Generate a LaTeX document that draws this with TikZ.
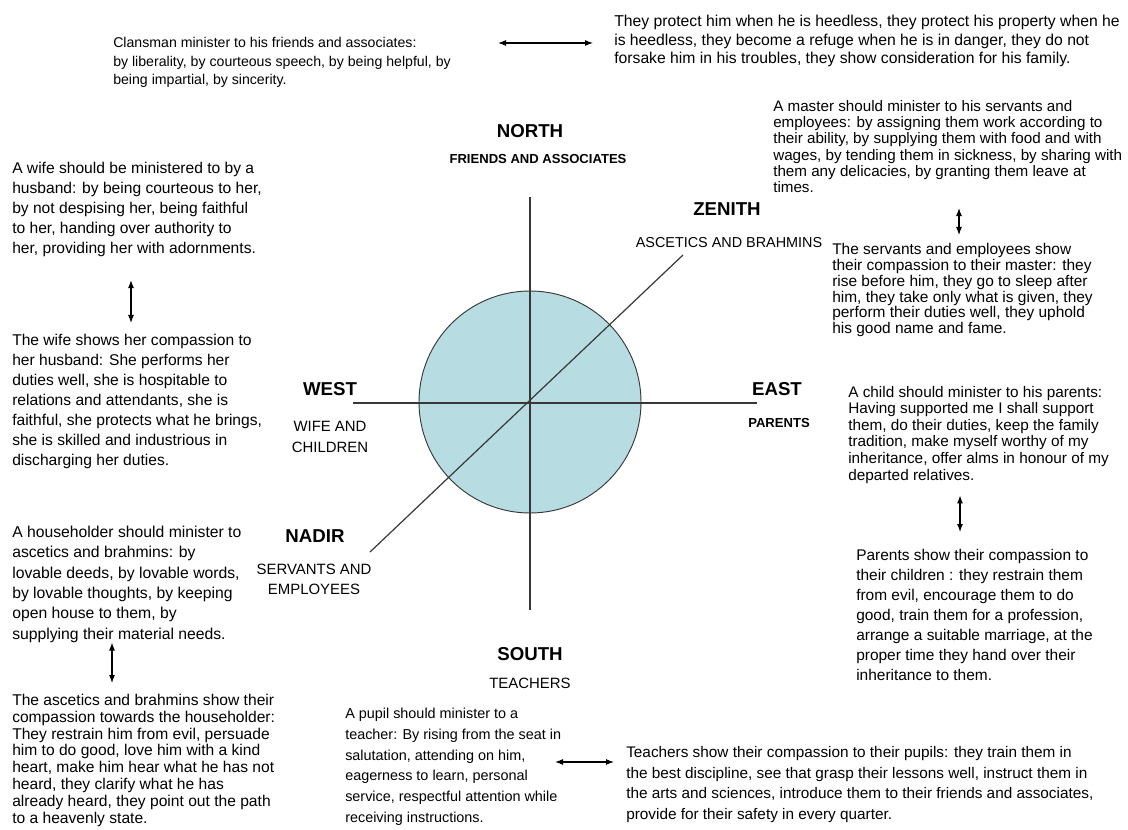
\documentclass[tikz,border=0pt]{standalone}
\usepackage{fontspec}
\setmainfont{Liberation Sans}
\usepackage{tikz}
\usetikzlibrary{arrows.meta,calc,positioning}
\usepackage{xcolor}
\definecolor{discblue}{RGB}{183,221,227}
\definecolor{axisgray}{RGB}{55,55,55}
\tikzstyle{dirlabel} = [font=\fontsize{14}{16}\selectfont\bfseries, inner sep=0pt]
\tikzstyle{subbold} = [font=\fontsize{9.8}{12}\selectfont\bfseries, inner sep=0pt]
\tikzstyle{sublabel} = [font=\fontsize{11.2}{16}\selectfont, align=center, inner sep=0pt]
\tikzstyle{duty} = [anchor=north west, align=left, inner sep=0pt]
\tikzstyle{axis} = [draw=axisgray, line width=0.9pt]
\tikzstyle{dbl} = [{Latex[length=6pt,width=4.5pt]}-{Latex[length=6pt,width=4.5pt]}, line width=0.8pt]

\begin{document}
\begin{tikzpicture}[x=0.75pt, y=-0.75pt]
\useasboundingbox (0,0) rectangle (1128,830);

% Compass
\node[circle, draw=axisgray, fill=discblue, line width=0.7pt, minimum size=166.5pt, inner sep=0pt] (disc) at (530,402) {};
\draw[axis] (530,197) -- (530,610);
\draw[axis] (353,403) -- (757,403);
\draw[axis] (370,552) -- (683,255);

% Directions
\node[dirlabel] (north) at (530,131) {NORTH};
\node[subbold] (friends) at (538,159) {FRIENDS AND ASSOCIATES};
\node[dirlabel] (zenith) at (727,209) {ZENITH};
\node[sublabel, font=\fontsize{10.8}{13}\selectfont] (ascetics) at (729,243) {ASCETICS AND BRAHMINS};
\node[dirlabel] (west) at (330,389) {WEST};
\node[sublabel] (wifechild) at (330,437) {WIFE AND\\CHILDREN};
\node[dirlabel] (east) at (777,389) {EAST};
\node[subbold] (parents) at (779,423) {PARENTS};
\node[dirlabel] (nadir) at (315,536) {NADIR};
\node[sublabel, font=\fontsize{11.2}{15}\selectfont] (servemp) at (314,579) {SERVANTS AND\\EMPLOYEES};
\node[dirlabel] (south) at (530,654) {SOUTH};
\node[sublabel] (teachers) at (530,683) {TEACHERS};

% North
\node[duty, font=\fontsize{10.6}{13.9}\selectfont] (clans) at (113,37) {Clansman minister to his friends and associates:\\
by liberality, by courteous speech, by being helpful, by\\
being impartial, by sincerity.};
\node[duty, font=\fontsize{11.8}{13.9}\selectfont] (guard) at (614,15) {They protect him when he is heedless, they protect his property when he\\
is heedless, they become a refuge when he is in danger, they do not\\
forsake him in his troubles, they show consideration for his family.};

% Zenith
\node[duty, font=\fontsize{11.4}{12.2}\selectfont] (master) at (773,100) {A master should minister to his servants and\\
employees: by assigning them work according to\\
their ability, by supplying them with food and with\\
wages, by tending them in sickness, by sharing with\\
them any delicacies, by granting them leave at\\
times.};
\node[duty, font=\fontsize{11.6}{11.9}\selectfont] (servants) at (832,243) {The servants and employees show\\
their compassion to their master: they\\
rise before him, they go to sleep after\\
him, they take only what is given, they\\
perform their duties well, they uphold\\
his good name and fame.};

% West
\node[duty, font=\fontsize{11.7}{15}\selectfont] (wife) at (12,162) {A wife should be ministered to by a\\
husband: by being courteous to her,\\
by not despising her, being faithful\\
to her, handing over authority to\\
her, providing her with adornments.};
\node[duty, font=\fontsize{11.7}{15}\selectfont] (wifecomp) at (12,334) {The wife shows her compassion to\\
her husband: She performs her\\
duties well, she is hospitable to\\
relations and attendants, she is\\
faithful, she protects what he brings,\\
she is skilled and industrious in\\
discharging her duties.};

% East
\node[duty, font=\fontsize{11.5}{12.4}\selectfont] (child) at (848,386) {A child should minister to his parents:\\
Having supported me I shall support\\
them, do their duties, keep the family\\
tradition, make myself worthy of my\\
inheritance, offer alms in honour of my\\
departed relatives.};
\node[duty, font=\fontsize{11.6}{15}\selectfont] (parentcomp) at (856,549) {Parents show their compassion to\\
their children : they restrain them\\
from evil, encourage them to do\\
good, train them for a profession,\\
arrange a suitable marriage, at the\\
proper time they hand over their\\
inheritance to them.};

% Nadir
\node[duty, font=\fontsize{11.8}{15.2}\selectfont] (house) at (12,526) {A householder should minister to\\
ascetics and brahmins: by\\
lovable deeds, by lovable words,\\
by lovable thoughts, by keeping\\
open house to them, by\\
supplying their material needs.};
\node[duty, font=\fontsize{11.7}{12.6}\selectfont] (ascetcomp) at (12,694) {The ascetics and brahmins show their\\
compassion towards the householder:\\
They restrain him from evil, persuade\\
him to do good, love him with a kind\\
heart, make him hear what he has not\\
heard, they clarify what he has\\
already heard, they point out the path\\
to a heavenly state.};

% South
\node[duty, font=\fontsize{10.8}{15.5}\selectfont] (pupil) at (345,708) {A pupil should minister to a\\
teacher: By rising from the seat in\\
salutation, attending on him,\\
eagerness to learn, personal\\
service, respectful attention while\\
receiving instructions.};
\node[duty, font=\fontsize{11.5}{15.5}\selectfont] (teacher) at (626,746) {Teachers show their compassion to their pupils: they train them in\\
the best discipline, see that grasp their lessons well, instruct them in\\
the arts and sciences, introduce them to their friends and associates,\\
provide for their safety in every quarter.};

% Links
\coordinate (a1) at ($(clans.north west)+(385,6)$);
\coordinate (b1) at ($(guard.north west)+(-21,28)$);
\draw[dbl] (a1) -- (a1 -| b1);
\coordinate (a2) at ($(master.south west)+(186,15)$);
\coordinate (b2) at ($(servants.north west)+(0,-8)$);
\draw[dbl] (a2) -- (a2 |- b2);
\coordinate (a3) at ($(wife.south west)+(119,23)$);
\coordinate (b3) at ($(wifecomp.north west)+(0,-11)$);
\draw[dbl] (a3) -- (a3 |- b3);
\coordinate (a4) at ($(child.south west)+(112,12)$);
\coordinate (b4) at ($(parentcomp.north west)+(0,-17)$);
\draw[dbl] (a4) -- (a4 |- b4);
\coordinate (a5) at ($(house.south west)+(100,0)$);
\coordinate (b5) at ($(ascetcomp.north west)+(0,-11)$);
\draw[dbl] (a5) -- (a5 |- b5);
\coordinate (a6) at ($(pupil.north west)+(210,54)$);
\coordinate (b6) at ($(teacher.north west)+(-12,0)$);
\draw[dbl] (a6) -- (a6 -| b6);
\end{tikzpicture}
\end{document}
